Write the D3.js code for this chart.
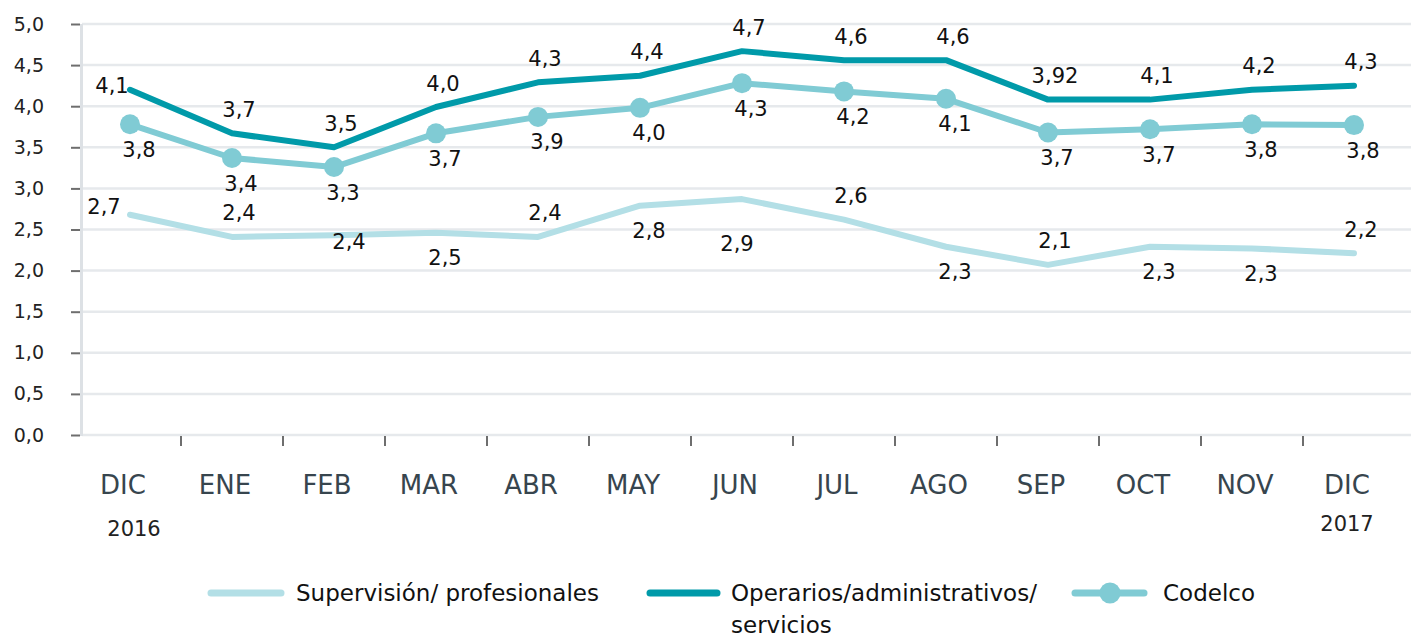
<!DOCTYPE html>
<html>
<head>
<meta charset="utf-8">
<script src="https://cdn.jsdelivr.net/npm/d3@7"></script>
<style>
  body { margin: 0; background: #fff; }
  svg { display: block; }
  text { font-family: "DejaVu Sans", sans-serif; }
</style>
</head>
<body>
<div id="chart"></div>
<script>
// months shown on the x axis (Dec 2016 .. Dec 2017)
const months = ['DIC', 'ENE', 'FEB', 'MAR', 'ABR', 'MAY', 'JUN', 'JUL', 'AGO', 'SEP', 'OCT', 'NOV', 'DIC'];
const years = ['2016', '2017'];
const yTicks = [0, 0.5, 1, 1.5, 2, 2.5, 3, 3.5, 4, 4.5, 5];

const supervision = [2.68, 2.41, 2.43, 2.46, 2.41, 2.79, 2.87, 2.62, 2.29, 2.07, 2.29, 2.27, 2.21];
const supervisionLabels = ['2,7', '2,4', '2,4', '2,5', '2,4', '2,8', '2,9', '2,6', '2,3', '2,1', '2,3', '2,3', '2,2'];

const operarios = [4.20, 3.67, 3.50, 3.99, 4.29, 4.37, 4.67, 4.56, 4.56, 4.08, 4.08, 4.20, 4.25];
const operariosLabels = ['4,1', '3,7', '3,5', '4,0', '4,3', '4,4', '4,7', '4,6', '4,6', '3,92', '4,1', '4,2', '4,3'];

const codelco = [3.78, 3.37, 3.26, 3.67, 3.87, 3.98, 4.28, 4.18, 4.09, 3.68, 3.72, 3.78, 3.77];
const codelcoLabels = ['3,8', '3,4', '3,3', '3,7', '3,9', '4,0', '4,3', '4,2', '4,1', '3,7', '3,7', '3,8', '3,8'];

// where each value label sits relative to its point
const supervisionSide = ['w', 'n', 'e', 's', 'n', 's', 'ss', 'n', 's', 'n', 's', 's', 'n'];
const operariosSide = ['w', 'n', 'n', 'n', 'n', 'n', 'n', 'n', 'n', 'n', 'n', 'n', 'n'];
const codelcoSide = ['s', 's', 's', 's', 's', 's', 's', 's', 's', 's', 's', 's', 's'];

const W = 1411, H = 637;
const COL_SUP = '#b3dfe6', COL_OPE = '#009aa9', COL_COD = '#80cbd4';

const svg = d3.select('#chart')
  .append('svg')
  .attr('width', W)
  .attr('height', H);

const x = d3.scaleBand()
  .domain(d3.range(months.length))
  .range([79, 1405]);
const cx = i => x(i) + x.bandwidth() / 2;

const y = d3.scaleLinear()
  .domain([0, 5])
  .range([435, 24]);

// grid
svg.append('g')
  .selectAll('line')
  .data(yTicks)
  .join('line')
  .attr('x1', 82).attr('x2', W)
  .attr('y1', d => y(d)).attr('y2', d => y(d))
  .attr('stroke', '#e6e9ec')
  .attr('stroke-width', 2.5);

// y axis
const yAxis = svg.append('g')
  .attr('transform', 'translate(80,0)')
  .call(d3.axisLeft(y)
    .tickValues(yTicks)
    .tickSize(9)
    .tickPadding(27)
    .tickFormat(d => d.toFixed(1).replace('.', ',')));
yAxis.select('.domain').remove();
yAxis.selectAll('.tick line').attr('stroke', '#6e6e6e').attr('stroke-width', 2);
yAxis.selectAll('.tick text')
  .attr('fill', '#222')
  .style('font-size', '19px')
  .style('font-family', '"DejaVu Sans", sans-serif');

svg.append('line')
  .attr('x1', 81.5).attr('x2', 81.5)
  .attr('y1', y(5)).attr('y2', y(0) + 1)
  .attr('stroke', '#dde1e5')
  .attr('stroke-width', 3);

// x ticks sit on the band boundaries
svg.append('g')
  .selectAll('line')
  .data(d3.range(1, months.length))
  .join('line')
  .attr('x1', d => x(d)).attr('x2', d => x(d))
  .attr('y1', y(0) + 1).attr('y2', y(0) + 11)
  .attr('stroke', '#6e6e6e')
  .attr('stroke-width', 2);

svg.append('g')
  .selectAll('text')
  .data(months)
  .join('text')
  .attr('x', (d, i) => cx(i) - 7)
  .attr('y', 494)
  .attr('text-anchor', 'middle')
  .attr('fill', '#37454e')
  .style('font-size', '26px')
  .text(d => d);

svg.append('text')
  .attr('x', cx(0) + 4).attr('y', 536)
  .attr('text-anchor', 'middle')
  .attr('fill', '#222')
  .style('font-size', '21px')
  .text(years[0]);
svg.append('text')
  .attr('x', cx(months.length - 1) - 7).attr('y', 531)
  .attr('text-anchor', 'middle')
  .attr('fill', '#222')
  .style('font-size', '21px')
  .text(years[1]);

// lines
const line = d3.line()
  .x((d, i) => cx(i))
  .y(d => y(d));

function drawSeries(values, color) {
  svg.append('path')
    .datum(values)
    .attr('fill', 'none')
    .attr('stroke', color)
    .attr('stroke-width', 6)
    .attr('stroke-linejoin', 'round')
    .attr('stroke-linecap', 'round')
    .attr('d', line);
}
drawSeries(supervision, COL_SUP);
drawSeries(operarios, COL_OPE);
drawSeries(codelco, COL_COD);

svg.append('g')
  .selectAll('circle')
  .data(codelco)
  .join('circle')
  .attr('cx', (d, i) => cx(i))
  .attr('cy', d => y(d))
  .attr('r', 10)
  .attr('fill', COL_COD);

// value labels
const offsets = {
  n: [7, -24], s: [9, 25], ss: [-5, 44], w: [-18, -4], e: [15, 6]
};
const offsetsWide = { w: [-26, -8] };

function drawLabels(values, labels, sides, wide) {
  svg.append('g')
    .selectAll('text')
    .data(values)
    .join('text')
    .attr('x', (d, i) => cx(i) + ((wide && offsetsWide[sides[i]]) || offsets[sides[i]])[0])
    .attr('y', (d, i) => y(d) + ((wide && offsetsWide[sides[i]]) || offsets[sides[i]])[1])
    .attr('dy', '0.36em')
    .attr('text-anchor', 'middle')
    .attr('fill', '#111')
    .style('font-size', '21px')
    .text((d, i) => labels[i]);
}
drawLabels(supervision, supervisionLabels, supervisionSide, true);
drawLabels(operarios, operariosLabels, operariosSide, false);
drawLabels(codelco, codelcoLabels, codelcoSide, false);

// legend
const legend = svg.append('g').style('font-size', '23px');
const ly = 593;

legend.append('line')
  .attr('x1', 211).attr('x2', 281).attr('y1', ly).attr('y2', ly)
  .attr('stroke', COL_SUP).attr('stroke-width', 7).attr('stroke-linecap', 'round');
legend.append('text')
  .attr('x', 296).attr('y', ly).attr('dy', '0.36em').attr('fill', '#111')
  .text('Supervisión/ profesionales');

legend.append('line')
  .attr('x1', 650).attr('x2', 717).attr('y1', ly).attr('y2', ly)
  .attr('stroke', COL_OPE).attr('stroke-width', 7).attr('stroke-linecap', 'round');
legend.append('text')
  .attr('x', 731).attr('y', ly).attr('dy', '0.36em').attr('fill', '#111')
  .text('Operarios/administrativos/');
legend.append('text')
  .attr('x', 731).attr('y', ly + 32).attr('dy', '0.36em').attr('fill', '#111')
  .text('servicios');

legend.append('line')
  .attr('x1', 1075).attr('x2', 1144).attr('y1', ly).attr('y2', ly)
  .attr('stroke', COL_COD).attr('stroke-width', 7).attr('stroke-linecap', 'round');
legend.append('circle')
  .attr('cx', 1110).attr('cy', ly).attr('r', 10.5).attr('fill', COL_COD);
legend.append('text')
  .attr('x', 1163).attr('y', ly).attr('dy', '0.36em').attr('fill', '#111')
  .text('Codelco');
</script>
</body>
</html>
